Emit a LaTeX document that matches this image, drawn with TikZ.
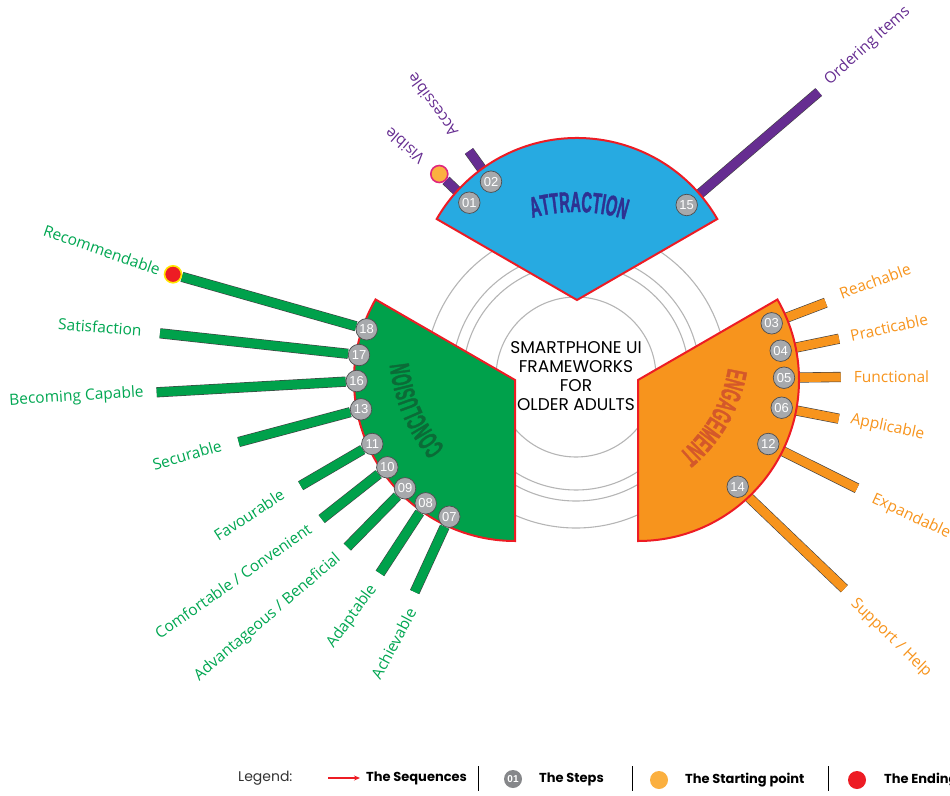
\documentclass[tikz,border=0pt]{standalone}
\usepackage{fontspec}
\setmainfont{Open Sans}
\newfontfamily\labelfont{Open Sans}
\newfontfamily\stepfont{Liberation Sans}
\newfontfamily\hubfont{Poppins}
\newfontfamily\titlefont{Liberation Sans}[FakeStretch=0.5,FakeBold=1.2]
\usetikzlibrary{decorations.text,arrows.meta}

\definecolor{secblue}{HTML}{27AAE1}
\definecolor{secgreen}{HTML}{00A14B}
\definecolor{secorange}{HTML}{F7941D}
\definecolor{seqred}{HTML}{ED1C24}
\definecolor{barpurple}{HTML}{662D91}
\definecolor{txtgreen}{HTML}{00A651}
\definecolor{txtorange}{HTML}{F7941D}
\definecolor{txtpurple}{HTML}{662D91}
\definecolor{baredge}{HTML}{414042}
\definecolor{stepgray}{HTML}{A7A9AC}
\definecolor{stepedge}{HTML}{4D4D4F}
\definecolor{ringgray}{HTML}{B5B5B5}
\definecolor{navytitle}{HTML}{2E3192}
\definecolor{greentitle}{HTML}{0B6B37}
\definecolor{orangetitle}{HTML}{D4582A}
\definecolor{startfill}{HTML}{FBB040}
\definecolor{startedge}{HTML}{E0267D}
\definecolor{endedge}{HTML}{FFE600}

\pgfdeclarelayer{rings}
\pgfdeclarelayer{bars}
\pgfdeclarelayer{sectors}
\pgfsetlayers{rings,bars,sectors,main}

\begin{document}
\begin{tikzpicture}[x=1pt,y=1pt,
  ring/.style={draw=ringgray, line width=1.1pt},
  sector/.style={draw=seqred, line width=2pt, line join=miter},
  bar/.style={draw=baredge, line width=0.6pt, double distance=9pt, double=#1},
  stepnode/.style={circle, fill=stepgray, draw=stepedge, line width=0.7pt,
    minimum size=21.5pt, inner sep=0pt, text=white,
    font=\stepfont\fontsize{13}{13}\selectfont},
  startdot/.style={circle, fill=startfill, draw=startedge, line width=1.6pt,
    minimum size=17pt, inner sep=0pt},
  enddot/.style={circle, fill=seqred, draw=endedge, line width=1.6pt,
    minimum size=17pt, inner sep=0pt},
  lbl/.style={inner sep=0pt, font=\labelfont\fontsize{15.5}{15.5}\selectfont},
  glbl/.style={lbl, text=txtgreen},
  olbl/.style={lbl, text=txtorange},
  plbl/.style={lbl, text=txtpurple},
  hubtext/.style={align=center, inner sep=0pt,
    font=\hubfont\fontsize{17}{19}\selectfont},
  legtext/.style={anchor=west, inner sep=0pt,
    font=\hubfont\bfseries\fontsize{13}{13}\selectfont},
  legsep/.style={draw=black, line width=1pt},
  legdot/.style={circle, minimum size=18pt, inner sep=0pt}
]
\useasboundingbox (0,0) rectangle (950,-795);
\clip (0,0) rectangle (950,-795);

% ---------- hub ----------
\coordinate (hubc) at (576,-377);
\begin{pgfonlayer}{rings}
  \foreach \r in {80,113,124,151}
    \draw[ring] (hubc) circle[radius=\r];
\end{pgfonlayer}
\node[hubtext] (hub) at (576,-376) {SMARTPHONE UI\\FRAMEWORKS\\FOR\\OLDER ADULTS};

% ---------- sector apexes ----------
\coordinate (A) at (577,-300);
\coordinate (C) at (515,-380);
\coordinate (E) at (638,-380);

\begin{pgfonlayer}{sectors}
  \draw[sector, fill=secblue]   (A) -- ([shift={(30:162)}]A)
      arc[start angle=30, end angle=150, radius=162] -- cycle;
  \draw[sector, fill=secgreen]  (C) -- ([shift={(150:161)}]C)
      arc[start angle=150, end angle=270, radius=161] -- cycle;
  \draw[sector, fill=secorange] (E) -- ([shift={(-90:161)}]E)
      arc[start angle=-90, end angle=30, radius=161] -- cycle;
\end{pgfonlayer}

% ---------- curved sector titles ----------
\path[decorate, decoration={text along path, text align=center,
    text color=navytitle,
    text={|\titlefont\bfseries\fontsize{29}{29}\selectfont|ATTRACTION}}]
  ([shift={(129:165)}]hubc) arc[start angle=129, end angle=49, radius=165];
\coordinate (cc) at (564,-347);
\path[decorate, decoration={text along path, text align=center,
    text color=greentitle,
    text={|\titlefont\bfseries\fontsize{28}{28}\selectfont|CONCLUSION}}]
  ([shift={(238:156)}]cc) arc[start angle=238, end angle=168, radius=156];
\coordinate (ec) at (590,-345);
\path[decorate, decoration={text along path, text align=center,
    text color=orangetitle,
    text={|\titlefont\bfseries\fontsize{28}{28}\selectfont|ENGAGEMENT}}]
  ([shift={(5:140)}]ec) arc[start angle=5, end angle=-65, radius=140];

% ---------- steps ----------
\node[stepnode] (s01) at (469.3,-202.7) {01};
\node[stepnode] (s02) at (491,-181.7) {02};
\node[stepnode] (s15) at (686.7,-205) {15};
\node[stepnode] (s03) at (771.7,-323.3) {03};
\node[stepnode] (s04) at (780.7,-350.7) {04};
\node[stepnode] (s05) at (784,-377.7) {05};
\node[stepnode] (s06) at (781.7,-407.7) {06};
\node[stepnode] (s12) at (768.3,-444) {12};
\node[stepnode] (s14) at (737.7,-486.7) {14};
\node[stepnode] (s18) at (366.7,-329.3) {18};
\node[stepnode] (s17) at (359,-355) {17};
\node[stepnode] (s16) at (356.7,-381) {16};
\node[stepnode] (s13) at (361,-409.3) {13};
\node[stepnode] (s11) at (372.3,-444) {11};
\node[stepnode] (s10) at (387.3,-467.3) {10};
\node[stepnode] (s09) at (405,-488.3) {09};
\node[stepnode] (s08) at (425.7,-503.3) {08};
\node[stepnode] (s07) at (449.3,-516.7) {07};

% start and end of the sequence
\node[startdot] (start) at (439.3,-174) {};
\node[enddot] (finish) at (173,-274.3) {};

% outer ends of the bars
\coordinate (b02) at (469,-151);
\coordinate (b15) at (818.7,-92);
\coordinate (b03) at (825.7,-302.7);
\coordinate (b04) at (839,-338.7);
\coordinate (b05) at (840.7,-377);
\coordinate (b06) at (838.7,-418.7);
\coordinate (b12) at (857,-488.3);
\coordinate (b14) at (844.3,-588.7);
\coordinate (b17) at (160,-333.3);
\coordinate (b16) at (156.7,-392.3);
\coordinate (b13) at (238.7,-442);
\coordinate (b11) at (300.7,-485.7);
\coordinate (b10) at (321.7,-519);
\coordinate (b09) at (347.3,-547);
\coordinate (b08) at (380,-573.3);
\coordinate (b07) at (414.7,-592);

\begin{pgfonlayer}{bars}
  \draw[bar=barpurple] (s01) -- (start);
  \draw[bar=barpurple] (s02) -- (b02);
  \draw[bar=barpurple] (s15) -- (b15);
  \draw[bar=secorange] (s03) -- (b03);
  \draw[bar=secorange] (s04) -- (b04);
  \draw[bar=secorange] (s05) -- (b05);
  \draw[bar=secorange] (s06) -- (b06);
  \draw[bar=secorange] (s12) -- (b12);
  \draw[bar=secorange] (s14) -- (b14);
  \draw[bar=secgreen] (s18) -- (finish);
  \draw[bar=secgreen] (s17) -- (b17);
  \draw[bar=secgreen] (s16) -- (b16);
  \draw[bar=secgreen] (s13) -- (b13);
  \draw[bar=secgreen] (s11) -- (b11);
  \draw[bar=secgreen] (s10) -- (b10);
  \draw[bar=secgreen] (s09) -- (b09);
  \draw[bar=secgreen] (s08) -- (b08);
  \draw[bar=secgreen] (s07) -- (b07);
\end{pgfonlayer}

% ---------- labels ----------
\node[plbl, rotate=139] (l01) at (404.5,-146) {Visible};
\node[plbl, rotate=126] (l02) at (432.5,-105) {Accessible};
\node[plbl, rotate=42]  (l15) at (867.5,-46) {Ordering Items};

\node[olbl, rotate=20]  (l03) at (875,-281) {Reachable};
\node[olbl, rotate=12]  (l04) at (889,-327.5) {Practicable};
\node[olbl]             (l05) at (891.5,-376.5) {Functional};
\node[olbl, rotate=-12] (l06) at (887.5,-427.5) {Applicable};
\node[olbl, rotate=-25] (l12) at (911,-516.5) {Expandable};
\node[olbl, rotate=-44] (l14) at (891,-638) {Support / Help};

\node[glbl, rotate=-19]  (l18) at (102,-250) {Recommendable};
\node[glbl, rotate=-4]   (l17) at (100,-327) {Satisfaction};
\node[glbl, rotate=3.5]  (l16) at (76.5,-397) {Becoming Capable};
\node[glbl, rotate=16]   (l13) at (187,-455) {Securable};
\node[glbl, rotate=33]   (l11) at (249,-515) {Favourable};
\node[glbl, rotate=35]   (l10) at (233,-581) {Comfortable / Convenient};
\node[glbl, rotate=40.5] (l09) at (267.5,-617.5) {Advantageous / Beneficial};
\node[glbl, rotate=54]   (l08) at (352,-616.5) {Adaptable};
\node[glbl, rotate=62]   (l07) at (393.5,-643.5) {Achievable};

% ---------- legend ----------
\node[anchor=west, inner sep=0pt, text=black!80,
      font=\hubfont\fontsize{14}{14}\selectfont] (legend) at (238,-778) {Legend:};
\coordinate (arrowtail) at (328,-778);
\coordinate (arrowhead) at (360,-778);
\draw[seqred, line width=1.2pt, -{Stealth[length=6pt,width=5pt]}] (arrowtail) -- (arrowhead);
\node[legtext] (legseq) at (366,-778) {The Sequences};
\draw[legsep] (478,-766) -- (478,-791);
\node[legdot, fill=stepgray!80!black, text=white,
      font=\stepfont\bfseries\fontsize{10}{10}\selectfont] (legstep) at (513,-779) {01};
\node[legtext] (legsteps) at (539,-779) {The Steps};
\draw[legsep] (632,-766) -- (632,-791);
\node[legdot, fill=startfill] (legstart) at (659,-780) {};
\node[legtext] (legstarttxt) at (685,-780) {The Starting point};
\draw[legsep] (828,-766) -- (828,-791);
\node[legdot, fill=seqred] (legend2) at (857,-780) {};
\node[legtext] (legendtxt) at (884,-780) {The Ending point};
\end{tikzpicture}
\end{document}
